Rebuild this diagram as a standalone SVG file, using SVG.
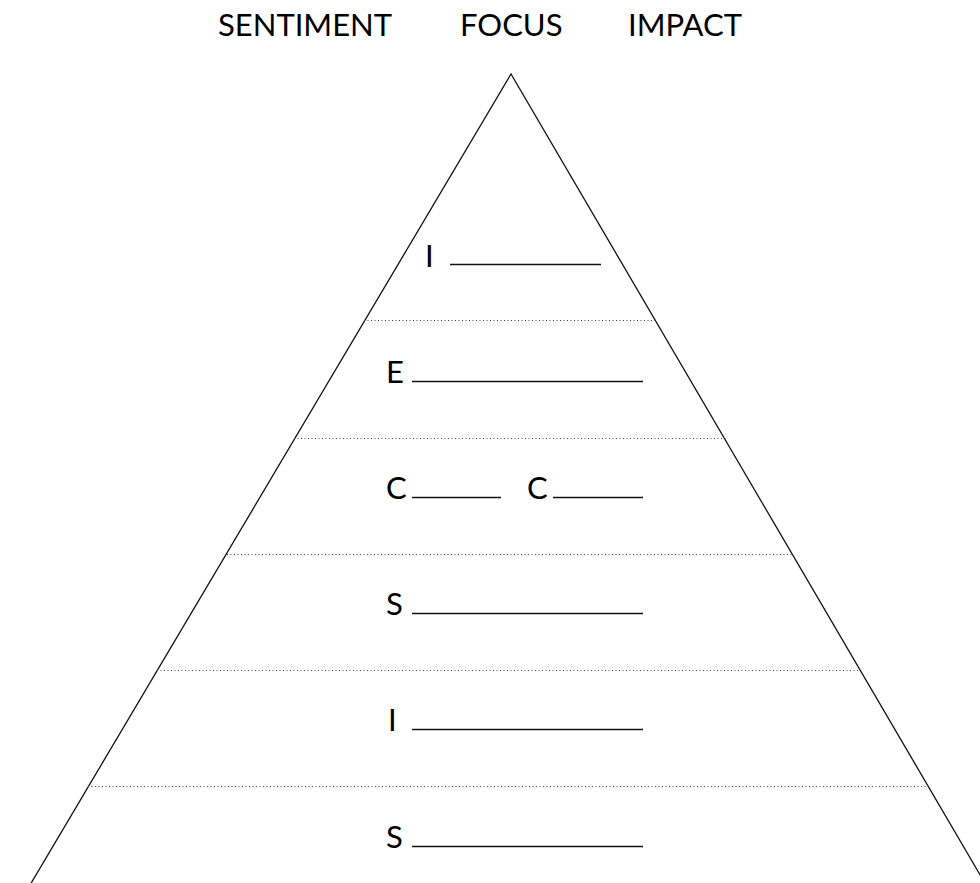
<svg xmlns="http://www.w3.org/2000/svg" width="980" height="883" viewBox="0 0 980 883">
<style>
.t{font-family:Lato,"Liberation Sans",sans-serif;font-size:31px;fill:#000}
.blank{stroke:#111;stroke-width:1.3}
.div{stroke:#444;stroke-width:1;stroke-dasharray:1,2.5}
</style>
<rect width="980" height="883" fill="#fff"/>
<g id="headers">
<text class="t" x="218" y="36">SENTIMENT</text>
<text class="t" x="460" y="36">FOCUS</text>
<text class="t" x="628" y="36">IMPACT</text>
</g>
<g id="pyramid">
<polyline points="30,885 511,74 986,885" fill="none" stroke="#111" stroke-width="1.3"/>
</g>
<g id="connectors">
<line class="div" x1="364" y1="320.5" x2="657" y2="320.5"/>
<line class="div" x1="294" y1="438.5" x2="726" y2="438.5"/>
<line class="div" x1="227" y1="554.5" x2="792" y2="554.5"/>
<line class="div" x1="157" y1="670.5" x2="860" y2="670.5"/>
<line class="div" x1="88" y1="786.5" x2="927" y2="786.5"/>
</g>
<g id="row1">
<text class="t" x="425" y="267">I</text>
<line class="blank" x1="450" y1="264.5" x2="601" y2="264.5"/>
</g>
<g id="row2">
<text class="t" x="386" y="383">E</text>
<line class="blank" x1="412" y1="381.5" x2="643" y2="381.5"/>
</g>
<g id="row3">
<text class="t" x="386" y="499">C</text>
<line class="blank" x1="412" y1="497.5" x2="501" y2="497.5"/>
<text class="t" x="527" y="499">C</text>
<line class="blank" x1="553" y1="497.5" x2="643" y2="497.5"/>
</g>
<g id="row4">
<text class="t" x="386" y="615">S</text>
<line class="blank" x1="412" y1="613.5" x2="643" y2="613.5"/>
</g>
<g id="row5">
<text class="t" x="388" y="731">I</text>
<line class="blank" x1="412" y1="729.5" x2="643" y2="729.5"/>
</g>
<g id="row6">
<text class="t" x="386" y="848">S</text>
<line class="blank" x1="412" y1="846.5" x2="643" y2="846.5"/>
</g>
</svg>
